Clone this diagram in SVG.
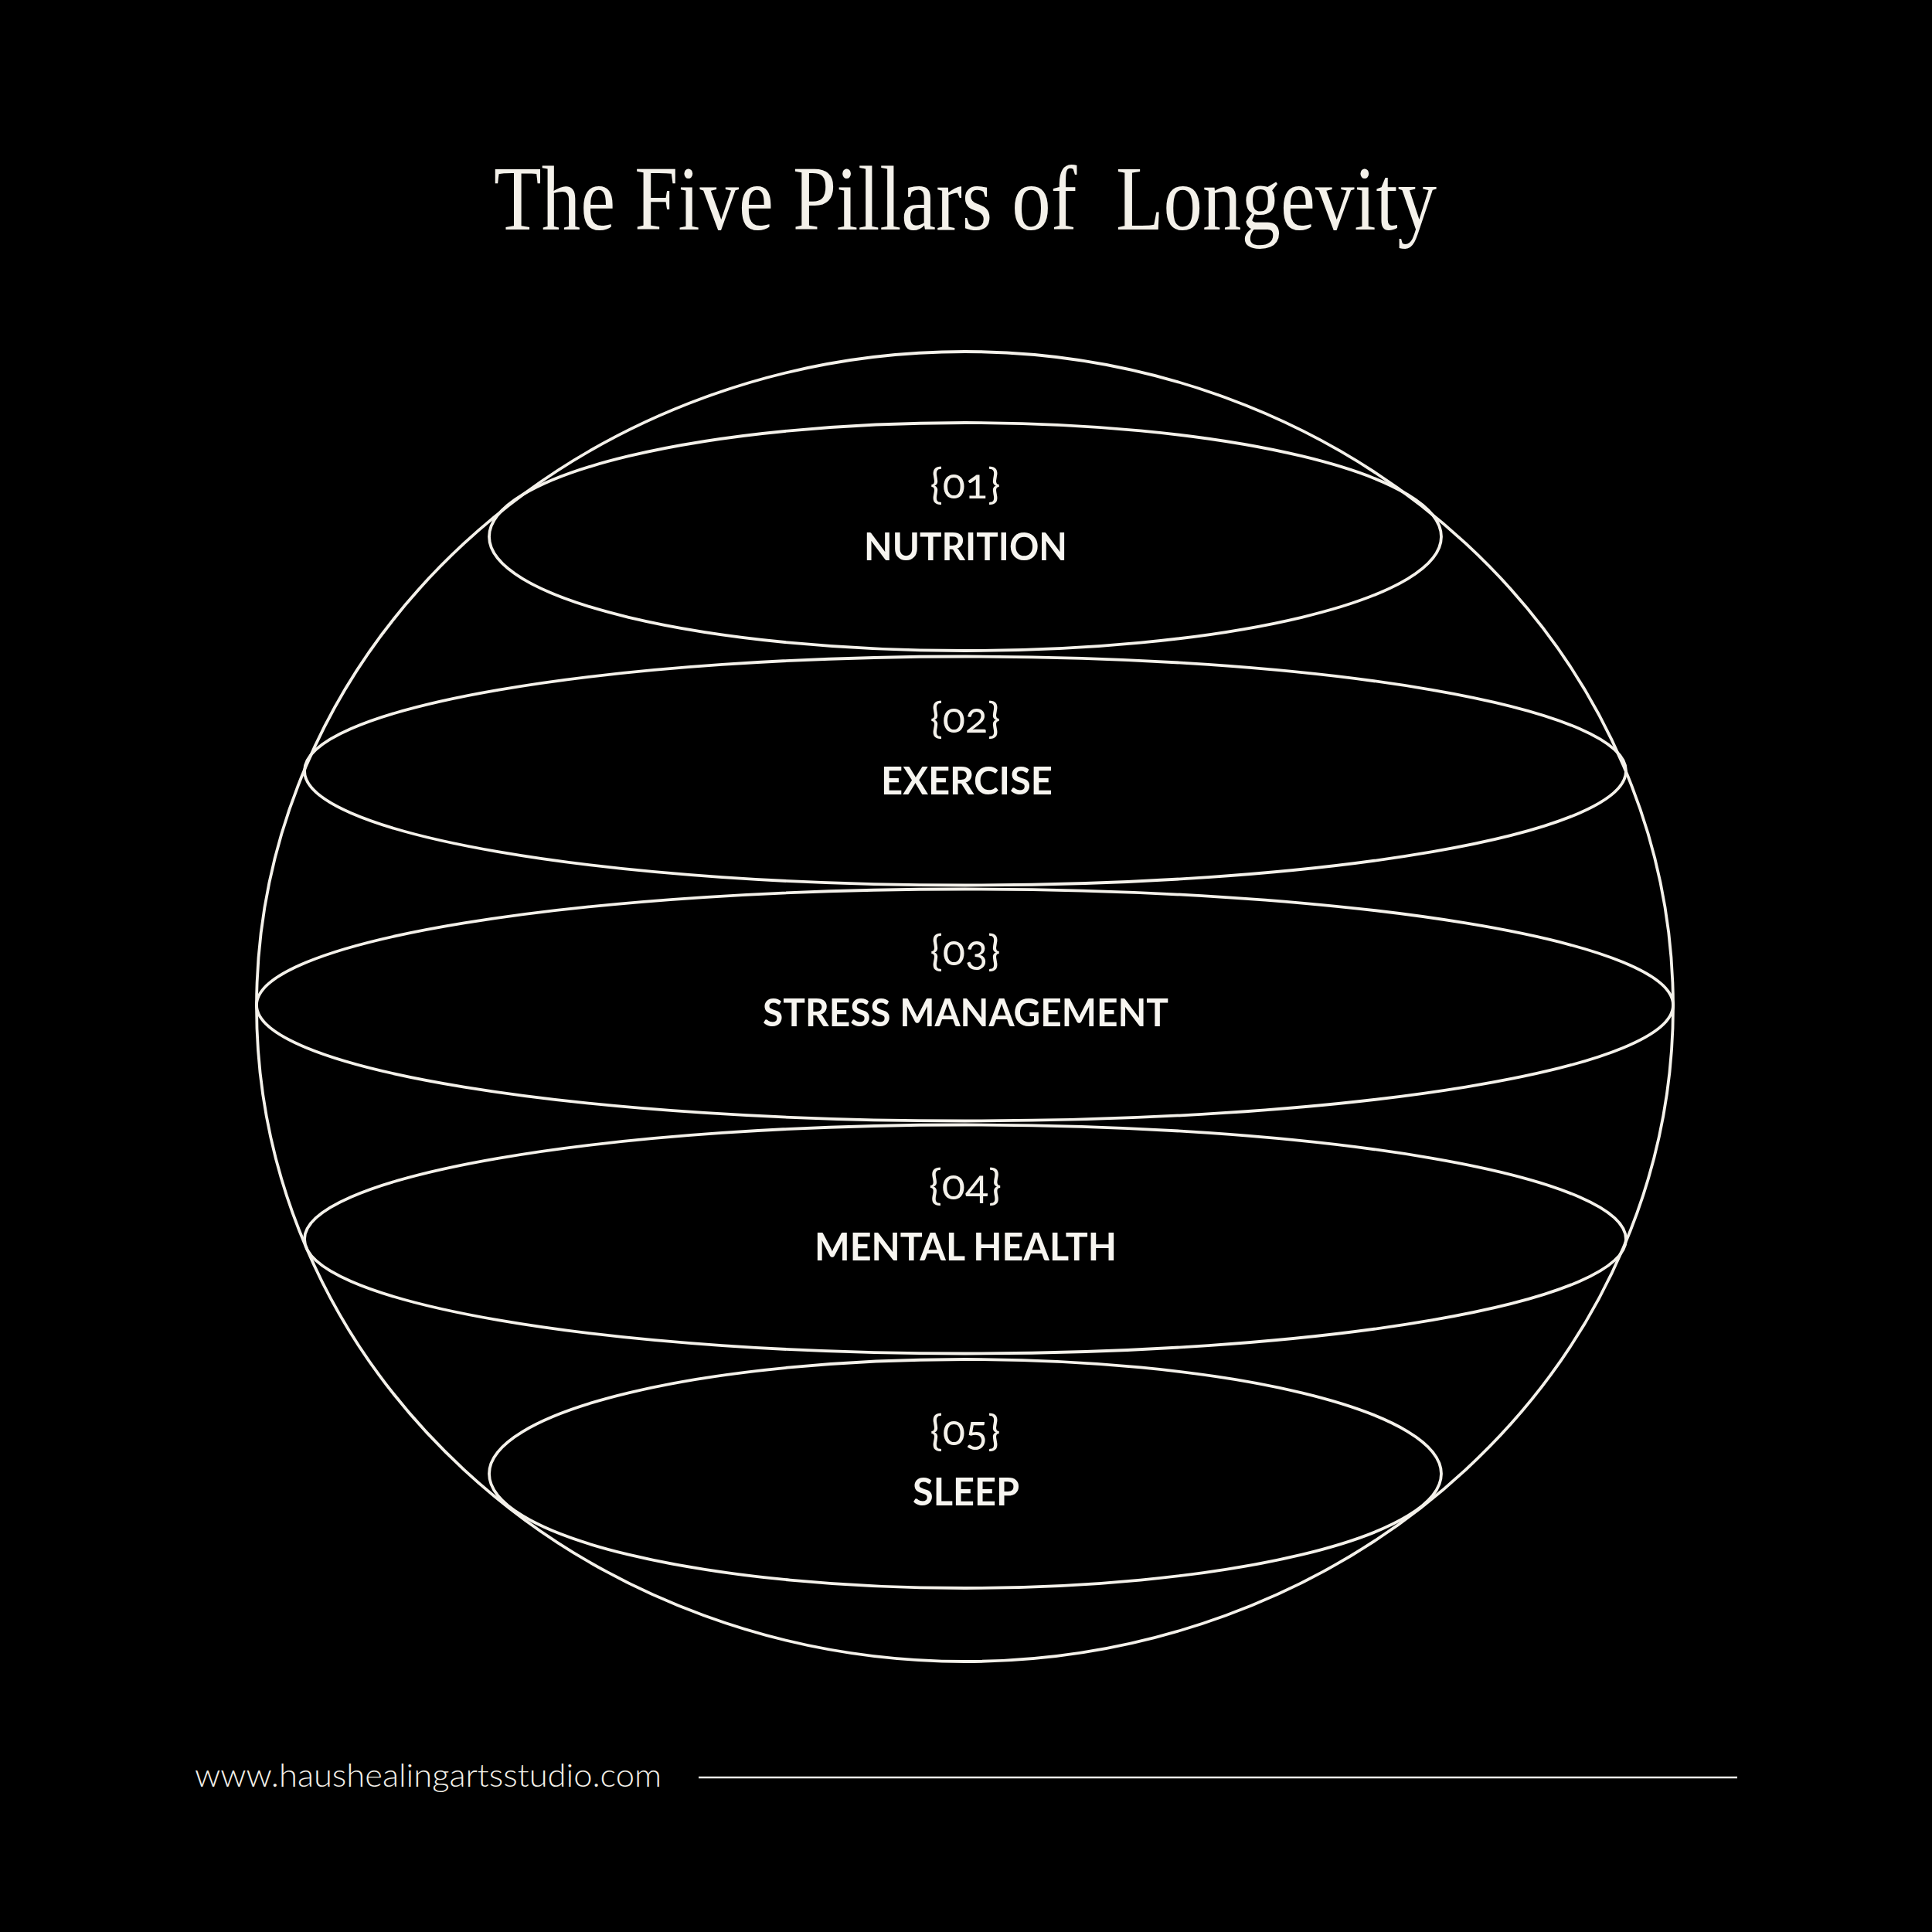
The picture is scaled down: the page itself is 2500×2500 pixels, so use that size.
<svg xmlns="http://www.w3.org/2000/svg" width="2500" height="2500" viewBox="0 0 2500 2500">
  <style>
    .ln { fill: none; stroke: #f4f1ea; stroke-width: 3.8; }
    .num { font-family: Lato, "Open Sans", "Liberation Sans", sans-serif; font-weight: 400; font-size: 55px; fill: #f4f1ea; text-anchor: middle; font-variant-numeric: oldstyle-nums; }
    .lbl { font-family: Lato, "Open Sans", "Liberation Sans", sans-serif; font-weight: 700; font-size: 50px; fill: #f7f5f0; }
    .title { font-family: "Liberation Serif", "DejaVu Serif", serif; font-weight: 400; font-size: 118px; fill: #f4f1ea; white-space: pre; }
    .foot { font-family: Lato, "Open Sans", "Liberation Sans", sans-serif; font-weight: 300; font-size: 42px; fill: #f4f1ea; }
  </style>
  <rect x="0" y="0" width="2500" height="2500" fill="#000000"/>

  <g id="title">
    <text class="title" x="639" y="297" textLength="1220" lengthAdjust="spacingAndGlyphs" xml:space="preserve">The Five Pillars of  Longevity</text>
  </g>

  <g id="sphere">
    <ellipse class="ln" cx="1248.5" cy="1302.5" rx="916.5" ry="847.5"/>
  </g>

  <g id="connectors"></g>

  <g id="node-1">
    <ellipse class="ln" cx="1249" cy="694.5" rx="616" ry="147.5"/>
    <text class="num" x="1249" y="645" textLength="91" lengthAdjust="spacingAndGlyphs">{01}</text>
    <text class="lbl" x="1118" y="725" textLength="263" lengthAdjust="spacingAndGlyphs">NUTRITION</text>
  </g>

  <g id="node-2">
    <ellipse class="ln" cx="1249" cy="997.5" rx="855" ry="148"/>
    <text class="num" x="1249" y="948" textLength="91" lengthAdjust="spacingAndGlyphs">{02}</text>
    <text class="lbl" x="1140" y="1028" textLength="222" lengthAdjust="spacingAndGlyphs">EXERCISE</text>
  </g>

  <g id="node-3">
    <ellipse class="ln" cx="1248.5" cy="1300.5" rx="916.5" ry="150"/>
    <text class="num" x="1249" y="1249" textLength="91" lengthAdjust="spacingAndGlyphs">{03}</text>
    <text class="lbl" x="987" y="1328" textLength="525" lengthAdjust="spacingAndGlyphs">STRESS MANAGEMENT</text>
  </g>

  <g id="node-4">
    <ellipse class="ln" cx="1249" cy="1603.5" rx="855" ry="148"/>
    <text class="num" x="1249" y="1552" textLength="94" lengthAdjust="spacingAndGlyphs">{04}</text>
    <text class="lbl" x="1054" y="1631" textLength="391" lengthAdjust="spacingAndGlyphs">MENTAL HEALTH</text>
  </g>

  <g id="node-5">
    <ellipse class="ln" cx="1249" cy="1907" rx="616" ry="148"/>
    <text class="num" x="1249" y="1870" textLength="91" lengthAdjust="spacingAndGlyphs">{05}</text>
    <text class="lbl" x="1181" y="1948" textLength="138" lengthAdjust="spacingAndGlyphs">SLEEP</text>
  </g>

  <g id="footer">
    <text class="foot" x="252" y="2312" textLength="604" lengthAdjust="spacingAndGlyphs">www.haushealingartsstudio.com</text>
    <line x1="904" y1="2300" x2="2248" y2="2300" stroke="#f4f1ea" stroke-width="2.5"/>
  </g>
</svg>
